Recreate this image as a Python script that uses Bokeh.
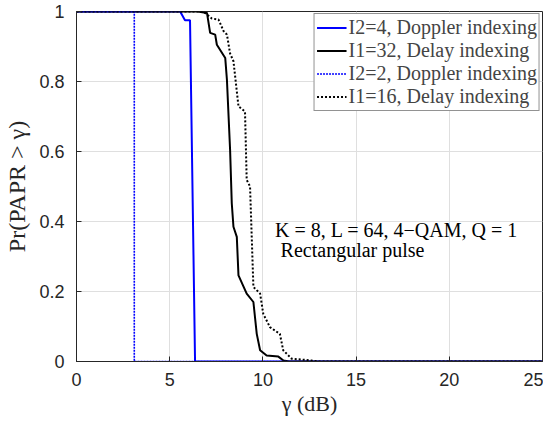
from bokeh.plotting import figure
from bokeh.models import Range1d, FixedTicker, NumeralTickFormatter, Legend, LegendItem, Label
from bokeh.embed import file_html
from bokeh.resources import INLINE

# --- data ---
x_d4 = [0, 5.56, 5.82, 6.09, 6.36, 25]
y_d4 = [1, 1, 0.975, 0.975, 0, 0]

x_dl32 = [0, 6.5, 7.0, 7.17, 7.44, 7.53, 7.98, 8.07, 8.24, 8.33, 8.42, 8.6, 8.69, 9.13, 9.49,
          9.67, 9.85, 10.2, 10.83, 11.1, 11.4, 25]
y_dl32 = [1, 1, 0.996, 0.939, 0.934, 0.905, 0.867, 0.805, 0.605, 0.452, 0.385, 0.356, 0.246,
          0.194, 0.170, 0.079, 0.032, 0.017, 0.014, 0.003, 0, 0]

x_d2 = [0, 3.1, 3.1, 25]
y_d2 = [1, 1, 0, 0]

x_dl16 = [0, 6.7, 6.9, 7.26, 7.62, 7.89, 8.07, 8.24, 8.42, 8.69, 9.04, 9.13, 9.31, 9.49, 9.85,
          10.02, 10.38, 10.91, 11.09, 11.54, 12.6, 13.0, 25]
y_dl16 = [1, 1, 0.996, 0.98, 0.977, 0.944, 0.934, 0.88, 0.858, 0.729, 0.714, 0.519, 0.5, 0.213,
          0.194, 0.136, 0.098, 0.079, 0.032, 0.008, 0.003, 0, 0]

labels = ["I2=4, Doppler indexing", "I1=32, Delay indexing",
          "I2=2, Doppler indexing", "I1=16, Delay indexing"]
x_ticks = [0, 5, 10, 15, 20, 25]
y_ticks = [0, 0.2, 0.4, 0.6, 0.8, 1]

p = figure(width=543, height=420, output_backend="svg", toolbar_location=None,
           x_range=Range1d(0, 25), y_range=Range1d(0, 1),
           min_border_left=76, min_border_right=1, min_border_top=11, min_border_bottom=59)
p.outline_line_color = "#262626"
p.outline_line_width = 1
p.background_fill_color = "white"
p.border_fill_color = "white"

for ax in (p.xaxis[0], p.yaxis[0]):
    ax.major_tick_in = 5
    ax.major_tick_out = 0
    ax.minor_tick_line_color = None
    ax.axis_line_color = "#262626"
    ax.major_tick_line_color = "#262626"
    ax.major_label_text_font = "Liberation Sans"
    ax.major_label_text_font_size = "18px"
    ax.major_label_text_color = "#262626"
    ax.axis_label_text_font = "Liberation Serif"
    ax.axis_label_text_font_style = "normal"
    ax.axis_label_text_font_size = "22px"
    ax.axis_label_text_color = "#262626"

p.xaxis.ticker = FixedTicker(ticks=x_ticks)
p.yaxis.ticker = FixedTicker(ticks=y_ticks)
p.yaxis.formatter = NumeralTickFormatter(format="0.[0]")
p.xaxis.axis_label = "γ (dB)"
p.yaxis.axis_label = "Pr(PAPR > γ)"
p.yaxis.axis_label_text_font_size = "24px"
p.xaxis.major_label_standoff = 11
p.yaxis.major_label_standoff = 12
p.xaxis.axis_label_standoff = 2
p.yaxis.axis_label_standoff = 6

p.grid.grid_line_color = "#dfdfdf"
p.grid.grid_line_width = 1

r1 = p.line(x_d4, y_d4, line_color="#0000ff", line_width=2)
r2 = p.line(x_dl32, y_dl32, line_color="black", line_width=2)
r3 = p.line(x_d2, y_d2, line_color="#0000ff", line_width=1.6, line_dash="2 1")
r4 = p.line(x_dl16, y_dl16, line_color="black", line_width=2, line_dash="2 2")

legend = Legend(items=[LegendItem(label=labels[i], renderers=[r]) for i, r in enumerate([r1, r2, r3, r4])],
                location="top_right", border_line_color="#262626", border_line_width=1,
                background_fill_alpha=1, label_text_font="Liberation Serif",
                label_text_font_size="20px", spacing=0, padding=2, margin=2,
                glyph_width=30, label_standoff=2, label_height=23, glyph_height=23)
p.add_layout(legend)

p.add_layout(Label(x=10.65, y=0.375, text="K = 8, L = 64, 4−QAM, Q = 1",
                   text_font="Liberation Serif", text_font_size="20px",
                   text_color="black", text_baseline="middle"))
p.add_layout(Label(x=10.95, y=0.318, text="Rectangular pulse",
                   text_font="Liberation Serif", text_font_size="20px",
                   text_color="black", text_baseline="middle"))

open("out.html", "w").write(file_html(p, INLINE))
